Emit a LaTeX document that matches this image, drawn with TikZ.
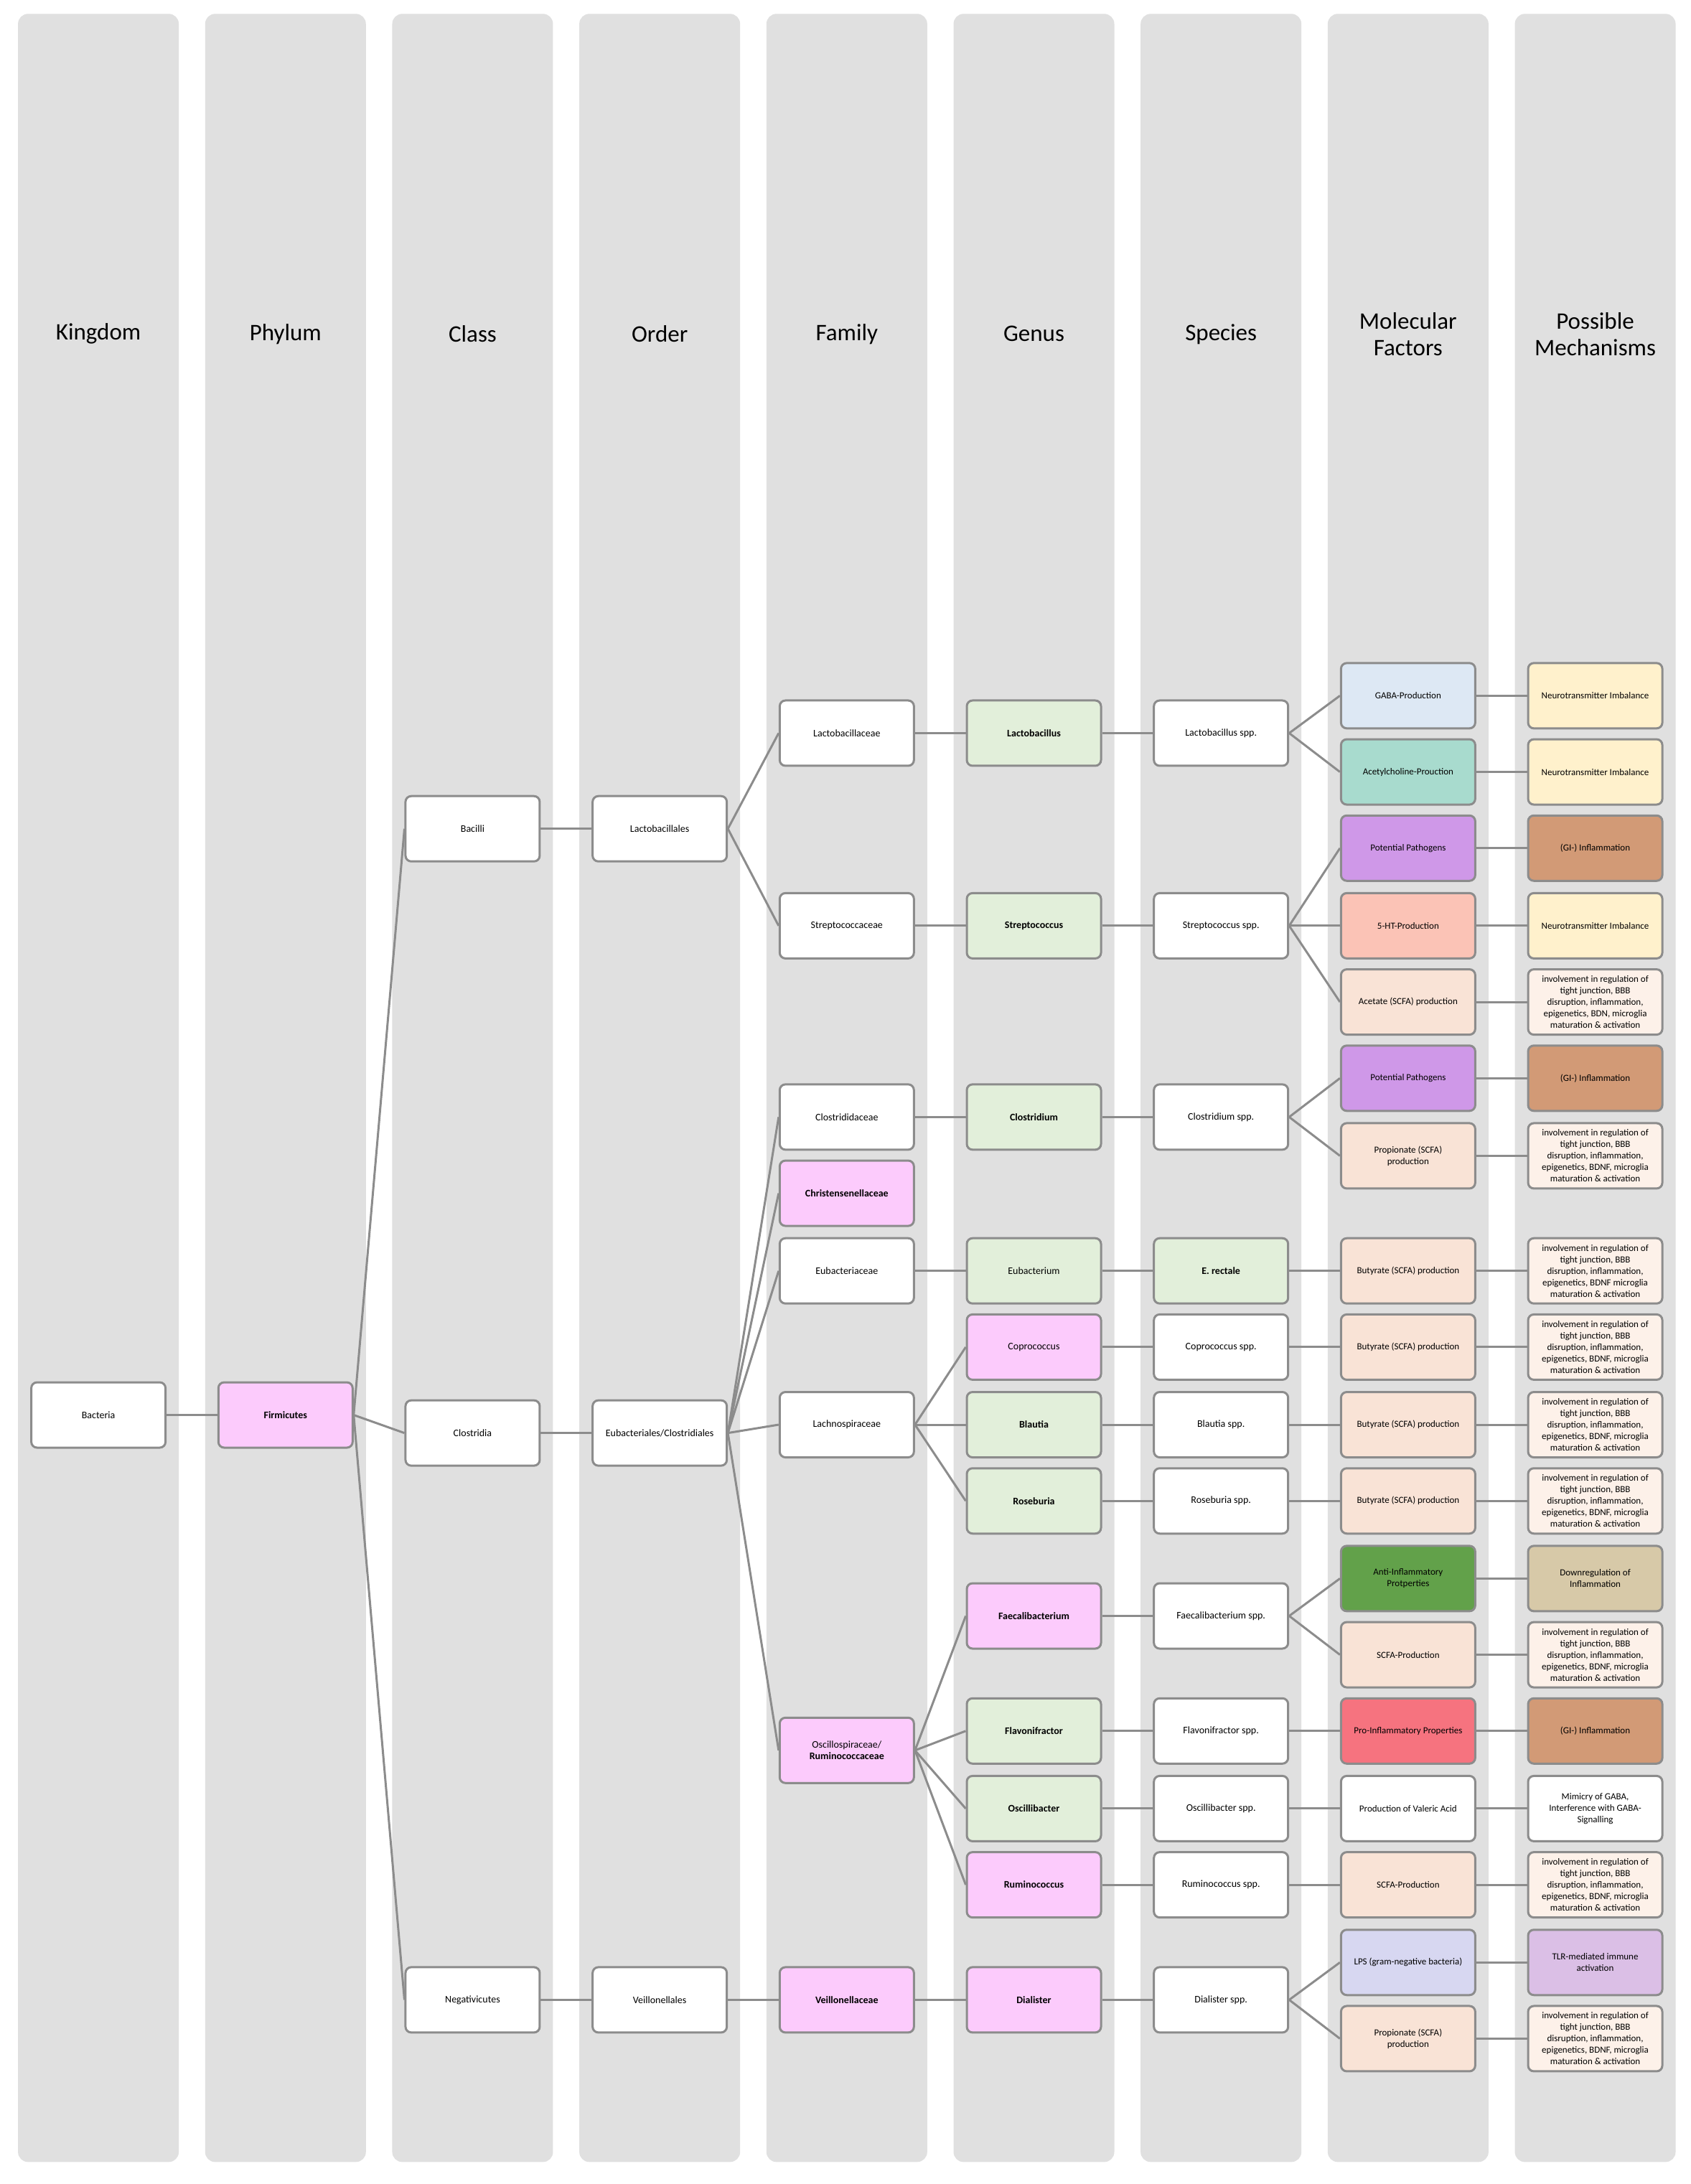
\documentclass[tikz,border=0pt]{standalone}
\usepackage{fontspec}
\setmainfont{Carlito}
\definecolor{strip}{HTML}{E0E0E0}
\definecolor{edge}{HTML}{8C8C8C}
\definecolor{cpink}{HTML}{FCCBFC}
\definecolor{cgreen}{HTML}{E2EFDA}
\definecolor{cblue}{HTML}{DDE8F4}
\definecolor{cteal}{HTML}{A8DBCE}
\definecolor{cpurple}{HTML}{CF98E8}
\definecolor{csalmon}{HTML}{FBC3B6}
\definecolor{cpeach}{HTML}{F9E3D6}
\definecolor{cpale}{HTML}{FDF1E9}
\definecolor{cyellow}{HTML}{FFF1CC}
\definecolor{cbrown}{HTML}{D29A76}
\definecolor{cdgreen}{HTML}{62A14A}
\definecolor{ctan}{HTML}{D7C9A8}
\definecolor{cred}{HTML}{F6737F}
\definecolor{clav}{HTML}{D7D7F1}
\definecolor{cmauve}{HTML}{DBBFE6}
\tikzset{
  bx/.style={draw=edge, line width=3pt, rounded corners=8pt, fill=white,
    minimum width=187pt, minimum height=91pt, align=center, inner sep=2pt,
    font=\fontsize{14}{16}\selectfont},
  sm/.style={bx, font=\fontsize{13}{16}\selectfont},
  hd/.style={font=\fontsize{33}{37}\selectfont, align=center},
  ln/.style={draw=edge, line width=3pt},
}
\begin{document}
\begin{tikzpicture}[x=1.931pt,y=-1.931pt]
\useasboundingbox (0,0) rectangle (1220,1575.9);
\fill[white] (0,0) rectangle (1220,1575.9);
\foreach \i in {0,...,8}{
  \fill[strip, rounded corners=14pt] (13+135*\i,10) rectangle (129+135*\i,1560);
}
\node[hd] at (71,241) {Kingdom};
\node[hd] at (206,241) {Phylum};
\node[hd] at (341,241) {Class};
\node[hd] at (476,241) {Order};
\node[hd] at (611,241) {Family};
\node[hd] at (746,241) {Genus};
\node[hd] at (881,241) {Species};
\node[hd] at (1016,241) {Molecular\\Factors};
\node[hd] at (1151,241) {Possible\\Mechanisms};
% kingdom, phylum
\node[bx] (bac) at (71,1021) {Bacteria};
\node[bx,fill=cpink] (fir) at (206,1021) {\bfseries Firmicutes};
% class
\node[bx] (bacilli) at (341,598) {Bacilli};
\node[bx] (clostridia) at (341,1034) {Clostridia};
\node[bx] (neg) at (341,1443) {Negativicutes};
% order
\node[bx] (lacto) at (476,598) {Lactobacillales};
\node[bx] (eub) at (476,1034) {Eubacteriales/Clostridiales};
\node[bx] (veil) at (476,1443) {Veillonellales};
% family
\node[bx] (f1) at (611,529) {Lactobacillaceae};
\node[bx] (f2) at (611,668) {Streptococcaceae};
\node[bx] (f3) at (611,806) {Clostrididaceae};
\node[bx,fill=cpink] (f4) at (611,861) {\bfseries Christensenellaceae};
\node[bx] (f5) at (611,917) {Eubacteriaceae};
\node[bx] (f6) at (611,1028) {Lachnospiraceae};
\node[bx,fill=cpink] (f7) at (611,1263) {Oscillospiraceae/\\\bfseries Ruminococcaceae};
\node[bx,fill=cpink] (f8) at (611,1443) {\bfseries Veillonellaceae};
% genus
\node[bx,fill=cgreen] (g1) at (746,529) {\bfseries Lactobacillus};
\node[bx,fill=cgreen] (g2) at (746,668) {\bfseries Streptococcus};
\node[bx,fill=cgreen] (g3) at (746,806) {\bfseries Clostridium};
\node[bx,fill=cgreen] (g4) at (746,917) {Eubacterium};
\node[bx,fill=cpink] (g5) at (746,972) {Coprococcus};
\node[bx,fill=cgreen] (g6) at (746,1028) {\bfseries Blautia};
\node[bx,fill=cgreen] (g7) at (746,1083) {\bfseries Roseburia};
\node[bx,fill=cpink] (g8) at (746,1166) {\bfseries Faecalibacterium};
\node[bx,fill=cgreen] (g9) at (746,1249) {\bfseries Flavonifractor};
\node[bx,fill=cgreen] (g10) at (746,1305) {\bfseries Oscillibacter};
\node[bx,fill=cpink] (g11) at (746,1360) {\bfseries Ruminococcus};
\node[bx,fill=cpink] (g12) at (746,1443) {\bfseries Dialister};
% species
\node[bx] (s1) at (881,529) {Lactobacillus spp.};
\node[bx] (s2) at (881,668) {Streptococcus spp.};
\node[bx] (s3) at (881,806) {Clostridium spp.};
\node[bx,fill=cgreen] (s4) at (881,917) {\bfseries E. rectale};
\node[bx] (s5) at (881,972) {Coprococcus spp.};
\node[bx] (s6) at (881,1028) {Blautia spp.};
\node[bx] (s7) at (881,1083) {Roseburia spp.};
\node[bx] (s8) at (881,1166) {Faecalibacterium spp.};
\node[bx] (s9) at (881,1249) {Flavonifractor spp.};
\node[bx] (s10) at (881,1305) {Oscillibacter spp.};
\node[bx] (s11) at (881,1360) {Ruminococcus spp.};
\node[bx] (s12) at (881,1443) {Dialister spp.};
% molecular factors
\node[sm,fill=cblue] (m1) at (1016,502) {GABA-Production};
\node[sm,fill=cteal] (m2) at (1016,557) {Acetylcholine-Prouction};
\node[sm,fill=cpurple] (m3) at (1016,612) {Potential Pathogens};
\node[sm,fill=csalmon] (m4) at (1016,668) {5-HT-Production};
\node[sm,fill=cpeach] (m5) at (1016,723) {Acetate (SCFA) production};
\node[sm,fill=cpurple] (m6) at (1016,778) {Potential Pathogens};
\node[sm,fill=cpeach] (m7) at (1016,834) {Propionate (SCFA)\\production};
\node[sm,fill=cpeach] (m8) at (1016,917) {Butyrate (SCFA) production};
\node[sm,fill=cpeach] (m9) at (1016,972) {Butyrate (SCFA) production};
\node[sm,fill=cpeach] (m10) at (1016,1028) {Butyrate (SCFA) production};
\node[sm,fill=cpeach] (m11) at (1016,1083) {Butyrate (SCFA) production};
\node[sm,fill=cdgreen] (m12) at (1016,1139) {Anti-Inflammatory\\Protperties};
\node[sm,fill=cpeach] (m13) at (1016,1194) {SCFA-Production};
\node[sm,fill=cred] (m14) at (1016,1249) {Pro-Inflammatory Properties};
\node[sm] (m15) at (1016,1305) {Production of Valeric Acid};
\node[sm,fill=cpeach] (m16) at (1016,1360) {SCFA-Production};
\node[sm,fill=clav] (m17) at (1016,1416) {LPS (gram-negative bacteria)};
\node[sm,fill=cpeach] (m18) at (1016,1471) {Propionate (SCFA)\\production};
% possible mechanisms
\def\invA{involvement in regulation of\\tight junction, BBB\\disruption, inflammation,\\epigenetics, BDNF, microglia\\maturation \& activation}
\node[sm,fill=cyellow] (p1) at (1151,502) {Neurotransmitter Imbalance};
\node[sm,fill=cyellow] (p2) at (1151,557) {Neurotransmitter Imbalance};
\node[sm,fill=cbrown] (p3) at (1151,612) {(GI-) Inflammation};
\node[sm,fill=cyellow] (p4) at (1151,668) {Neurotransmitter Imbalance};
\node[sm,fill=cpale] (p5) at (1151,723) {involvement in regulation of\\tight junction, BBB\\disruption, inflammation,\\epigenetics, BDN, microglia\\maturation \& activation};
\node[sm,fill=cbrown] (p6) at (1151,778) {(GI-) Inflammation};
\node[sm,fill=cpale] (p7) at (1151,834) {\invA};
\node[sm,fill=cpale] (p8) at (1151,917) {involvement in regulation of\\tight junction, BBB\\disruption, inflammation,\\epigenetics, BDNF microglia\\maturation \& activation};
\node[sm,fill=cpale] (p9) at (1151,972) {\invA};
\node[sm,fill=cpale] (p10) at (1151,1028) {\invA};
\node[sm,fill=cpale] (p11) at (1151,1083) {\invA};
\node[sm,fill=ctan] (p12) at (1151,1139) {Downregulation of\\Inflammation};
\node[sm,fill=cpale] (p13) at (1151,1194) {\invA};
\node[sm,fill=cbrown] (p14) at (1151,1249) {(GI-) Inflammation};
\node[sm] (p15) at (1151,1305) {Mimicry of GABA,\\Interference with GABA-\\Signalling};
\node[sm,fill=cpale] (p16) at (1151,1360) {\invA};
\node[sm,fill=cmauve] (p17) at (1151,1416) {TLR-mediated immune\\activation};
\node[sm,fill=cpale] (p18) at (1151,1471) {\invA};
% connectors
\foreach \a/\b in {bac/fir, fir/bacilli, fir/clostridia, fir/neg,
  bacilli/lacto, clostridia/eub, neg/veil,
  lacto/f1, lacto/f2, eub/f3, eub/f4, eub/f5, eub/f6, eub/f7, veil/f8,
  f1/g1, f2/g2, f3/g3, f5/g4, f6/g5, f6/g6, f6/g7, f7/g8, f7/g9, f7/g10, f7/g11, f8/g12,
  g1/s1, g2/s2, g3/s3, g4/s4, g5/s5, g6/s6, g7/s7, g8/s8, g9/s9, g10/s10, g11/s11, g12/s12,
  s1/m1, s1/m2, s2/m3, s2/m4, s2/m5, s3/m6, s3/m7, s4/m8, s5/m9, s6/m10, s7/m11,
  s8/m12, s8/m13, s9/m14, s10/m15, s11/m16, s12/m17, s12/m18}
  {\draw[ln] (\a.east) -- (\b.west);}
\foreach \i in {1,...,18} {\draw[ln] (m\i.east) -- (p\i.west);}
\end{tikzpicture}
\end{document}
